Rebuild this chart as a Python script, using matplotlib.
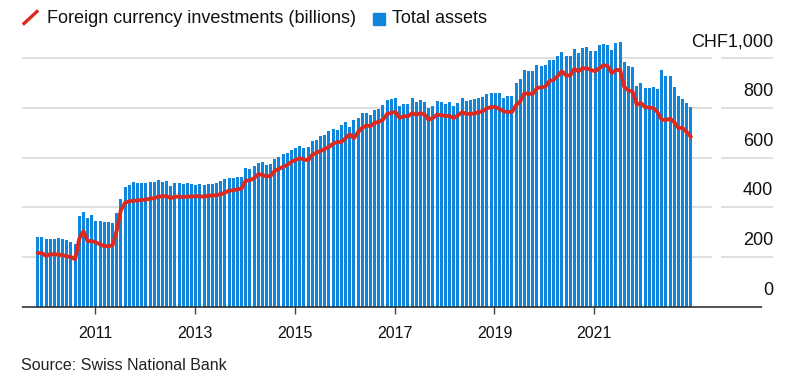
import numpy as np
import matplotlib.pyplot as plt
from matplotlib.lines import Line2D
from matplotlib.patches import Rectangle

plt.rcParams['font.family'] = ['Liberation Sans', 'DejaVu Sans']

# monthly values, CHF billions
total_assets = [
    282, 280, 271, 273, 273, 276, 271, 267, 260, 251, 365, 381, 356, 368, 345, 345,
    339, 339, 336, 379, 435, 483, 491, 503, 497, 497,
    497, 500, 501, 509, 503, 505, 485, 496, 496, 493, 497, 493, 489, 495, 491, 493,
    493, 497, 505, 513, 520, 520, 521, 521, 557, 553, 565,
    579, 581, 572, 575, 595, 604, 613, 619, 632, 637, 645, 640, 643, 665, 672, 687,
    692, 707, 716, 713, 731, 743, 723, 752, 760, 779,
    779, 773, 793, 797, 811, 833, 835, 841, 809, 817, 817, 839, 825, 833, 824, 801,
    809, 827, 824, 815, 825, 807, 819, 841, 828, 833,
    836, 840, 843, 855, 859, 862, 859, 842, 850, 850, 900, 915, 952, 948, 949, 971,
    968, 973, 995, 993, 1008, 1027, 1009, 1009, 1038, 1022, 1040,
    1045, 1031, 1031, 1052, 1059, 1053, 1035, 1063, 1065, 987, 967, 963, 887, 899,
    880, 880, 883, 875, 952, 929, 928, 883, 848, 838, 821, 803,
]
fx_investments = [
    216, 216, 205, 211, 211, 210, 207, 203, 200, 191, 274, 304, 264, 264, 259, 251,
    244, 244, 247, 307, 389, 418, 424, 427, 427, 430,
    431, 435, 437, 443, 444, 445, 437, 443, 443, 441, 444, 443, 445, 444, 443, 447,
    447, 449, 453, 459, 467, 469, 472, 475, 507, 509, 517,
    533, 531, 524, 527, 547, 555, 563, 571, 583, 591, 598, 592, 590, 611, 620, 627,
    635, 643, 656, 663, 663, 678, 694, 678, 703, 720,
    729, 727, 740, 744, 753, 776, 780, 784, 760, 767, 766, 779, 773, 779, 773, 753,
    760, 773, 771, 768, 768, 759, 770, 783, 776, 776,
    778, 783, 787, 799, 803, 804, 796, 786, 784, 784, 811, 827, 859, 857, 857, 880,
    883, 885, 908, 913, 929, 948, 931, 931, 957, 948, 960,
    959, 953, 948, 960, 972, 969, 940, 953, 953, 884, 871, 865, 813, 820, 804, 801,
    800, 783, 753, 751, 757, 743, 720, 719, 703, 684,
]
year_labels = ['2011', '2013', '2015', '2017', '2019', '2021']
y_values = [0, 200, 400, 600, 800, 1000]
y_labels = ['0', '200', '400', '600', '800', 'CHF1,000']

blue = '#0f86dc'
red = '#dc2a1f'
grid = '#dcdcdc'

W, H = 793, 391
fig = plt.figure(figsize=(W / 100, H / 100), dpi=100)
ax = fig.add_axes([22 / W, (H - 306.7) / H, (773 - 22) / W, 268.3 / H])

x = np.arange(len(total_assets))
x_left, x_right = -3.77, 176.75

# gridlines, broken just before the label column
for v in y_values[1:]:
    ax.hlines(v, x_left, 162.1, color=grid, lw=1.3, zorder=0)
    ax.hlines(v, 164.3, x_right, color=grid, lw=1.3, zorder=0)

ax.bar(x, total_assets, width=0.72, color=blue, linewidth=0, zorder=2)
ax.plot(x, fx_investments, color=red, lw=2.8, zorder=3,
        solid_joinstyle='round', solid_capstyle='round')
ax.hlines(0, x_left, 174.1, color='#222222', lw=1.1, zorder=4, clip_on=False)

for v, lab in zip(y_values, y_labels):
    ax.text(x_right, v + 48, lab, ha='right', va='baseline', fontsize=13, color='#111111')

ax.set_xlim(x_left, x_right)
ax.set_ylim(0, 1080)
ax.set_xticks([13.8 + 24 * k for k in range(len(year_labels))])
ax.set_xticklabels(year_labels)
ax.tick_params(axis='x', length=5, width=1, color='#444444', pad=9,
               labelsize=11.5, labelcolor='#111111')
ax.set_yticks([])
for s in ax.spines.values():
    s.set_visible(False)

# legend
fig.add_artist(Line2D([24 / W, 37 / W], [1 - 23.5 / H, 1 - 11.5 / H], color=red, lw=2.4))
fig.text(46.7 / W, 1 - 18.3 / H, 'Foreign currency investments (billions)',
         va='center', fontsize=13, color='#111111')
fig.add_artist(Rectangle((372.5 / W, 1 - 25 / H), 12 / W, 12 / H, color=blue))
fig.text(391.7 / W, 1 - 18.3 / H, 'Total assets', va='center', fontsize=13, color='#111111')

fig.text(21 / W, 1 - 366 / H, 'Source: Swiss National Bank', va='center',
         fontsize=11.5, color='#222222')

fig.savefig('out.png', dpi=100)
